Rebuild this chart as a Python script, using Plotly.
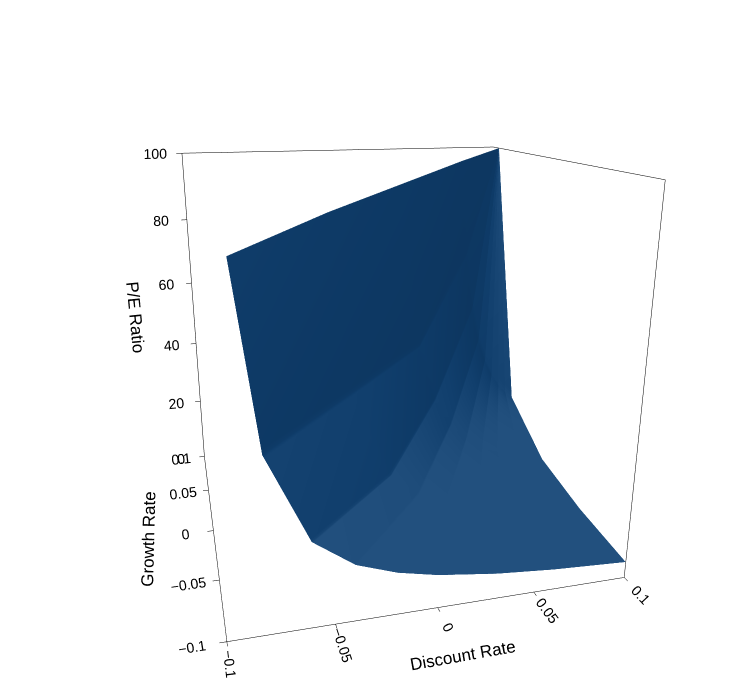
import plotly.graph_objects as go

growth_rate = [-0.1, -0.05, 0.0, 0.05, 0.09]
# discount rates sampled per growth row (surface exists where discount > growth)
discount_rate = [
    [-0.09, -0.08, -0.06, -0.04, -0.02, 0.0, 0.03, 0.06, 0.1],
    [-0.04, -0.03, -0.01, 0.005, 0.02, 0.04, 0.06, 0.08, 0.1],
    [0.01, 0.02, 0.03, 0.04, 0.05, 0.06, 0.07, 0.085, 0.1],
    [0.06, 0.065, 0.07, 0.075, 0.08, 0.085, 0.09, 0.095, 0.1],
    [0.1, 0.1, 0.1, 0.1, 0.1, 0.1, 0.1, 0.1, 0.1],
]
pe_ratio = [
    [88, 45, 22.5, 15, 11.3, 9, 6.9, 5.6, 4.5],
    [92, 47.5, 23.8, 17.3, 13.6, 10.6, 8.6, 7.3, 6.3],
    [95, 50, 33.3, 25, 20, 16.7, 14.3, 11.8, 10],
    [98, 70, 52.5, 42, 35, 30, 26.3, 23.3, 21],
    [100, 100, 100, 100, 100, 100, 100, 100, 100],
]

ys = [[g] * len(row) for g, row in zip(growth_rate, discount_rate)]

fig = go.Figure(go.Surface(
    x=discount_rate, y=ys, z=pe_ratio,
    colorscale=[[0, "#0e3c6a"], [1, "#0e3c6a"]], showscale=False,
    lighting=dict(ambient=0.75, diffuse=0.5, specular=0.15, roughness=0.8),
    lightposition=dict(x=-100, y=-1000, z=1000),
))
ax = dict(showbackground=False, showgrid=False, zeroline=False, showline=True,
          linecolor="black", ticks="outside", tickcolor="black",
          tickfont=dict(family="Liberation Sans", size=13, color="black"),
          mirror=True, showspikes=False)
fig.update_layout(
    width=754, height=680, paper_bgcolor="white", margin=dict(l=0, r=0, t=0, b=0),
    font=dict(family="Liberation Sans", size=14, color="black"),
    scene=dict(
        xaxis=dict(ax, title="Discount Rate", range=[-0.1, 0.1], tickvals=[-0.1, -0.05, 0, 0.05, 0.1]),
        yaxis=dict(ax, title="Growth Rate", range=[-0.1, 0.1], tickvals=[-0.1, -0.05, 0, 0.05, 0.1]),
        zaxis=dict(ax, title="P/E Ratio", range=[0, 100], tickvals=[0, 20, 40, 60, 80, 100]),
        aspectmode="cube",
        camera=dict(eye=dict(x=-0.55, y=-2.1, z=0.7), center=dict(x=0, y=0, z=0)),
    ),
)
fig.write_html("out.html")
